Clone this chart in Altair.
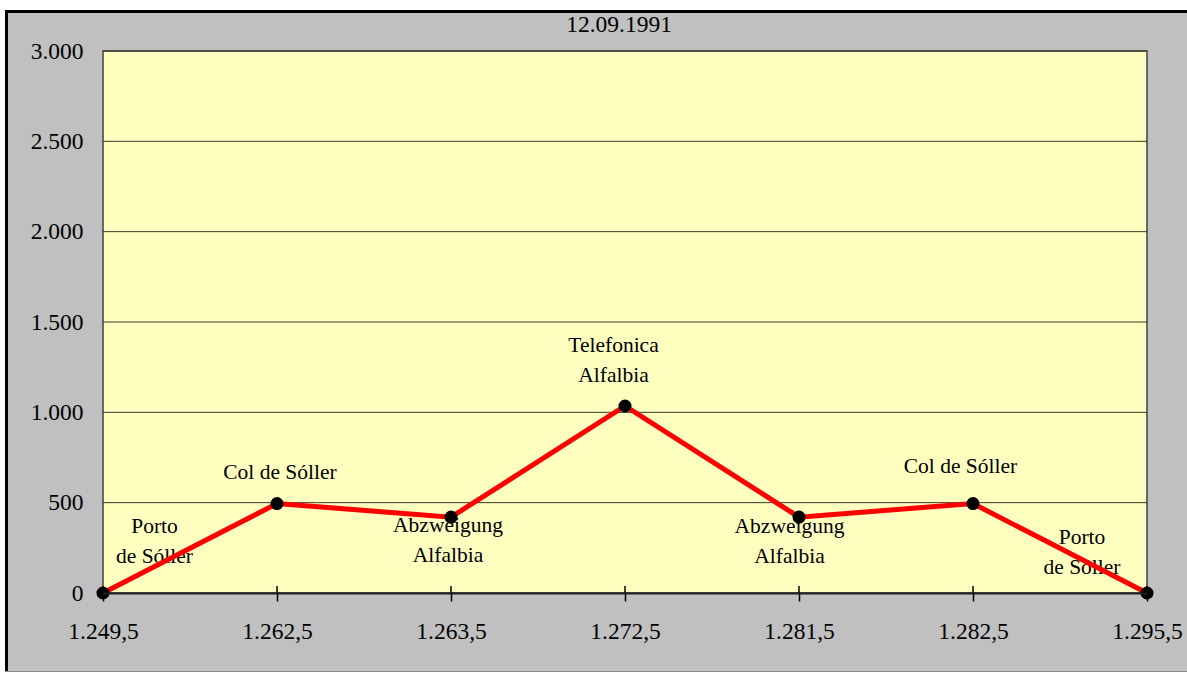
import altair as alt
import pandas as pd

# Kilometre marks along the route (category axis) and elevation in metres
km_marks = ["1.249,5", "1.262,5", "1.263,5", "1.272,5", "1.281,5", "1.282,5", "1.295,5"]
elevation = [0, 495, 420, 1035, 420, 495, 0]
place_names = [
    "Porto\nde Sóller",
    "Col de Sóller",
    "Abzweigung\nAlfalbia",
    "Telefonica\nAlfalbia",
    "Abzweigung\nAlfalbia",
    "Col de Sóller",
    "Porto\nde Sóller",
]
y_ticks = [0, 500, 1000, 1500, 2000, 2500, 3000]
chart_title = "12.09.1991"

W, H = 1044, 542
FONT = "Liberation Serif"

route = pd.DataFrame(
    {"km": km_marks, "elev": elevation, "name": place_names, "idx": list(range(len(km_marks)))}
)
grid = pd.DataFrame({"elev": y_ticks})
one = alt.Data(values=[{"k": 0}])

x_enc = alt.X(
    "km:N",
    sort=km_marks,
    scale=alt.Scale(type="point", padding=0, domain=km_marks),
    axis=alt.Axis(
        title=None,
        labelFont=FONT,
        labelFontSize=23.5,
        labelColor="black",
        labelAngle=0,
        labelBaseline="alphabetic",
        labelPadding=37,
        labelOverlap=False,
        tickSize=8,
        tickColor="black",
        tickWidth=1.5,
        domainColor="#202020",
        domainWidth=2,
        grid=False,
        zindex=1,
    ),
)
y_enc = alt.Y(
    "elev:Q",
    scale=alt.Scale(domain=[0, 3000], nice=False, zero=True),
    axis=alt.Axis(
        title=None,
        values=y_ticks,
        labelExpr="replace(format(datum.value, ','), ',', '.')",
        labelFont=FONT,
        labelFontSize=23.5,
        labelColor="black",
        labelBaseline="middle",
        labelPadding=20,
        ticks=False,
        tickSize=0,
        domain=False,
        grid=False,
        zindex=1,
    ),
)

# Grey chart area with a dark edge on the left and top
frame = alt.Chart(one).mark_rect(fill="#C0C0C0").encode(
    x=alt.value(-98), x2=alt.value(W + 60), y=alt.value(-41), y2=alt.value(H + 78)
)
edge_left = alt.Chart(one).mark_rule(color="black", strokeWidth=3).encode(
    x=alt.value(-96.5), y=alt.value(-41), y2=alt.value(H + 78)
)
edge_top = alt.Chart(one).mark_rule(color="black", strokeWidth=3).encode(
    x=alt.value(-98), x2=alt.value(W + 60), y=alt.value(-39.5)
)
edge_bottom = alt.Chart(one).mark_rule(color="#8a8a8a", strokeWidth=1).encode(
    x=alt.value(-98), x2=alt.value(W + 60), y=alt.value(H + 78.5)
)

# Date heading centred above the plot
heading = alt.Chart(alt.Data(values=[{"t": chart_title}])).mark_text(
    font=FONT, fontSize=23.5, color="black", align="center", baseline="alphabetic"
).encode(text="t:N", x=alt.value(W / 2 - 6), y=alt.value(-19))

# Pale yellow plot area
plot_bg = alt.Chart(one).mark_rect(fill="#FFFFC0", stroke="#404040", strokeWidth=1.5).encode(
    x=alt.value(0), x2=alt.value(W), y=alt.value(0), y2=alt.value(H)
)

gridlines = alt.Chart(grid).mark_rule(color="#3a3a2a", strokeWidth=1).encode(
    y=y_enc, x=alt.value(0), x2=alt.value(W)
)

# Part of each category tick that reaches into the plot
inner_ticks = alt.Chart(route).mark_rule(color="black", strokeWidth=1.5).encode(
    x=x_enc, y=alt.value(H - 7), y2=alt.value(H)
)

line = alt.Chart(route).mark_line(color="#FF0000", strokeWidth=5).encode(x=x_enc, y=y_enc)
points = alt.Chart(route).mark_circle(color="black", size=170, opacity=1).encode(x=x_enc, y=y_enc)

# Place-name labels, each nudged to its own spot beside the point
label_offsets = [(51.5, -60), (3, -25), (-3, 15), (-11.5, -54), (-9.5, 16), (-12.5, -30.5), (-65, -49)]
labels = []
for i, (dx, dy) in enumerate(label_offsets):
    labels.append(
        alt.Chart(route)
        .transform_filter(alt.datum.idx == i)
        .mark_text(
            font=FONT,
            fontSize=21.5,
            color="black",
            align="center",
            baseline="alphabetic",
            lineBreak="\n",
            lineHeight=29.5,
            dx=dx,
            dy=dy,
        )
        .encode(x=x_enc, y=y_enc, text="name:N")
    )

chart = (
    alt.layer(
        frame, edge_left, edge_top, edge_bottom, heading,
        plot_bg, gridlines, inner_ticks, *labels, line, points,
    )
    .properties(
        width=W,
        height=H,
        autosize=alt.AutoSizeParams(type="none"),
        padding={"left": 103, "top": 51, "right": 40, "bottom": 80},
        background="white",
    )
    .configure_view(stroke=None)
)

chart.save("out.html", embed_options={"renderer": "svg", "actions": False})
